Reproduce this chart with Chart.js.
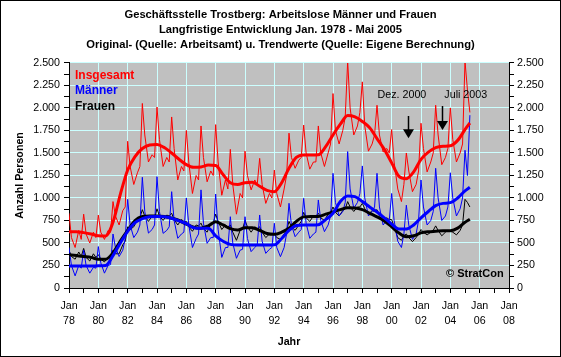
<!DOCTYPE html>
<html><head><meta charset="utf-8">
<script src="https://cdn.jsdelivr.net/npm/chart.js@4.4.0/dist/chart.umd.min.js"></script>
<style>html,body{margin:0;padding:0;background:#fff}</style>
</head><body>
<canvas id="c" width="561" height="357"></canvas>
<script>
// ---- data ----
const fullYears = [1978,1979,1980,1981,1982,1983,1984,1985,1986,1987,1988,1989,1990,1991,
  1992,1993,1994,1995,1996,1997,1998,1999,2000,2001,2002,2003,2004];
const sampleMonths = [1,3,6,9,11];      // Jan, Mar, Jun, Sep, Nov of each year
const lastYear = 2005;
const lastMonths = [1,3,5];             // Jan, Mar, May 2005

// Original values, per year: Jan, Mar, Jun, Sep, Nov
const insgesamtOriginal = [
  830,560,450,640,540,   820,600,500,620,560,   810,620,540,640,620,
  960,800,700,860,900,   1630,1350,1150,1280,1350, 2050,1700,1400,1480,1450,
  2010,1650,1350,1450,1400, 1900,1550,1200,1350,1300, 1750,1400,1050,1250,1200,
  1800,1450,1180,1300,1250, 1815,1400,1030,1200,1100, 1540,1150,820,1050,1000,
  1520,1250,1090,1200,1150, 1440,1150,940,1050,1000, 1310,1050,900,1100,1250,
  1720,1450,1330,1420,1450, 1810,1500,1320,1400,1400, 1800,1500,1350,1500,1600,
  2160,1750,1600,1750,1900, 2520,2000,1700,1800,1950, 2290,1800,1520,1600,1700,
  2030,1700,1510,1550,1500, 1760,1400,1100,960,1150, 1500,1300,1070,1150,1300,
  1830,1550,1290,1400,1500, 2030,1700,1370,1450,1550, 2000,1650,1400,1500,1600,
  2520,2200,1950
];
const maennerOriginal = [
  450,250,135,250,220,   420,250,165,230,220,   460,280,165,250,260,
  600,450,350,420,550,   985,700,560,620,700,   1230,850,610,650,700,
  1237,850,607,640,680,  1070,750,552,600,620,  1000,700,450,550,600,
  1090,720,496,560,560,  1044,650,340,450,450,  792,500,330,420,430,
  792,550,404,450,480,   811,520,385,430,450,   719,450,348,450,600,
  941,700,570,620,650,   996,720,552,600,620,   978,750,626,700,800,
  1274,950,800,850,950,  1515,1100,885,950,1050, 1356,1000,800,850,900,
  1274,900,700,750,750,  1050,750,520,450,600,  920,700,540,600,750,
  1200,900,700,750,850,  1330,1000,750,800,900, 1280,1000,800,880,1000,
  1530,1250,1920
];
const frauenOriginal = [
  420,350,320,400,350,   440,340,300,380,340,   370,320,290,340,330,
  420,380,380,480,520,   680,650,680,760,780,   870,800,740,800,780,
  880,800,750,810,800,   830,760,700,760,740,   740,680,630,700,690,
  720,660,620,720,720,   820,740,650,700,680,   700,620,530,640,650,
  750,680,620,680,660,   680,620,560,600,600,   600,560,540,600,640,
  740,680,640,700,740,   840,780,740,800,800,   830,780,750,820,840,
  900,840,800,860,880,   960,900,850,900,900,   940,880,820,860,850,
  870,800,740,780,760,   760,680,560,530,580,   600,560,515,560,600,
  650,620,590,620,640,   690,640,580,620,640,   630,620,590,640,700,
  985,950,900
];

// Trend values (own calculation), half-yearly
const trendDates = [1978,1978.5,1979,1979.5,1980,1980.5,1981,1981.5,1982,1982.5,1983,1983.5,
  1984,1984.5,1985,1985.5,1986,1986.5,1987,1987.5,1988,1988.5,1989,1989.5,1990,1990.5,
  1991,1991.5,1992,1992.5,1993,1993.5,1994,1994.5,1995,1995.5,1996,1996.5,1997,1997.5,
  1998,1998.5,1999,1999.5,2000,2000.5,2001,2001.5,2002,2002.5,2003,2003.5,2004,2004.5,
  2005,2005.33];
const insgesamtTrend = [626,626,615,600,580,578,730,1040,1311,1460,1550,1589,
  1595,1560,1500,1430,1370,1340,1345,1365,1360,1260,1170,1150,1170,1175,
  1130,1085,1070,1170,1330,1450,1478,1478,1480,1570,1700,1820,1915,1900,
  1850,1780,1660,1540,1390,1240,1215,1290,1430,1510,1560,1575,1580,1640,
  1760,1833];
const maennerTrend = [244,244,244,244,246,250,360,500,630,725,770,792,
  795,792,775,745,715,670,663,663,580,520,485,478,478,478,
  478,478,480,550,640,695,700,700,702,760,830,960,1022,1015,
  960,900,845,780,710,655,655,700,780,850,915,940,948,1000,
  1080,1119];
const frauenTrend = [370,360,350,340,320,320,390,520,640,750,795,800,
  800,795,775,750,710,675,665,690,735,700,660,645,670,670,
  640,605,596,620,663,740,790,795,795,820,845,870,892,890,
  870,830,790,745,680,610,570,580,612,625,630,635,637,665,
  730,763];

const yearMin = 1978, yearMax = 2008;
const valueMax = 2500;

// ---- helpers ----
const originalDates = [];
fullYears.forEach(y => sampleMonths.forEach(m => originalDates.push(y + (m - 1) / 12)));
lastMonths.forEach(m => originalDates.push(lastYear + (m - 1) / 12));
const pts = (xs, ys) => ys.map((v, i) => ({x: xs[i], y: v}));

const FONT = '"Liberation Sans", Arial, sans-serif';
const GRID = '#CCFFFF';
const fmt = v => v >= 1000 ? Math.floor(v / 1000) + '.' + String(v % 1000).padStart(3, '0') : String(v);

const decoPlugin = {
  id: 'deco',
  beforeDraw(chart) {
    const {ctx, chartArea: a} = chart;
    ctx.save();
    ctx.fillStyle = '#fff';
    ctx.fillRect(0, 0, chart.width, chart.height);
    ctx.fillStyle = '#C0C0C0';
    ctx.fillRect(a.left, a.top, a.right - a.left, a.bottom - a.top);
    ctx.restore();
  },
  afterDraw(chart) {
    const {ctx, chartArea: a, scales: {x, y}} = chart;
    ctx.save();
    // legend texts
    ctx.textBaseline = 'middle';
    ctx.textAlign = 'left';
    ctx.font = 'bold 12px ' + FONT;
    ctx.fillStyle = '#FF0000'; ctx.fillText('Insgesamt', a.left + 6, a.top + 13);
    ctx.fillStyle = '#0000FF'; ctx.fillText('Männer', a.left + 6, a.top + 28);
    ctx.fillStyle = '#000000'; ctx.fillText('Frauen', a.left + 6, a.top + 44);
    // copyright
    ctx.font = 'bold 11px ' + FONT;
    ctx.fillText('© StratCon', a.right - 63, a.bottom - 14);
    // annotations
    ctx.font = '10.7px ' + FONT;
    ctx.textAlign = 'center';
    ctx.fillText('Dez. 2000', x.getPixelForValue(2000.7), y.getPixelForValue(2144));
    ctx.fillText('Juli 2003', x.getPixelForValue(2005.05), y.getPixelForValue(2144));
    const arrow = (yr, v1, v2) => {
      const px = Math.round(x.getPixelForValue(yr)) + 0.5;
      const y1 = y.getPixelForValue(v1), y2 = y.getPixelForValue(v2);
      ctx.strokeStyle = '#000'; ctx.lineWidth = 1.5;
      ctx.beginPath(); ctx.moveTo(px, y1); ctx.lineTo(px, y2 - 8); ctx.stroke();
      ctx.beginPath(); ctx.moveTo(px - 5.5, y2 - 9); ctx.lineTo(px + 5.5, y2 - 9); ctx.lineTo(px, y2); ctx.closePath();
      ctx.fill();
    };
    arrow(2001.1, 1911, 1663);
    arrow(2003.45, 2022, 1755);
    // outer frame
    ctx.strokeStyle = '#000'; ctx.lineWidth = 1;
    ctx.strokeRect(0.5, 0.5, 560, 356);
    ctx.restore();
  }
};

const thin = (label, data, color, order) => ({label, data, borderColor: color, backgroundColor: color,
  borderWidth: 1, pointRadius: 0, tension: 0, order});
const thick = (label, data, color, order) => ({label, data, borderColor: color, backgroundColor: color,
  borderWidth: 3, pointRadius: 0, cubicInterpolationMode: 'monotone', order});

new Chart(document.getElementById('c'), {
  type: 'line',
  data: {
    datasets: [
      thin('Frauen', pts(originalDates, frauenOriginal), '#000000', 6),
      thin('Männer', pts(originalDates, maennerOriginal), '#0000FF', 5),
      thin('Insgesamt', pts(originalDates, insgesamtOriginal), '#FF0000', 4),
      thick('Frauen Trend', pts(trendDates, frauenTrend), '#000000', 3),
      thick('Männer Trend', pts(trendDates, maennerTrend), '#0000FF', 2),
      thick('Insgesamt Trend', pts(trendDates, insgesamtTrend), '#FF0000', 1)
    ]
  },
  options: {
    responsive: false, animation: false, devicePixelRatio: 1,
    layout: {padding: 0},
    plugins: {
      legend: {display: false},
      tooltip: {enabled: false},
      title: {
        display: true,
        text: ['Geschäftsstelle Trostberg: Arbeitslose Männer und Frauen',
               'Langfristige Entwicklung Jan. 1978 - Mai 2005',
               'Original- (Quelle: Arbeitsamt) u. Trendwerte (Quelle: Eigene Berechnung)'],
        color: '#000',
        font: {family: FONT, size: 11.2, weight: 'bold', lineHeight: 1.32},
        padding: {top: 7.6, bottom: 11}
      }
    },
    scales: {
      x: {
        type: 'linear', min: yearMin, max: yearMax,
        afterFit: s => { s.height = 69; },
        border: {color: '#000', width: 1},
        grid: {
          color: c => (c.tick && c.tick.value % 2 === 0 && c.tick.value !== yearMin && c.tick.value !== yearMax) ? GRID : 'rgba(0,0,0,0)',
          tickColor: '#000', tickLength: 5, lineWidth: 1
        },
        ticks: {
          stepSize: 1, autoSkip: false, maxRotation: 0, minRotation: 0, padding: 6,
          color: '#000', font: {family: FONT, size: 10.7, lineHeight: 1.4},
          callback: v => v % 2 === 0 ? ['Jan', String(v % 100).padStart(2, '0')] : ''
        },
        title: {display: true, text: 'Jahr', color: '#000',
          font: {family: FONT, size: 10.7, weight: 'bold'}, padding: {top: 0, bottom: 9}}
      },
      y: {
        type: 'linear', position: 'left', min: 0, max: valueMax,
        afterFit: s => { s.width = 69; },
        border: {color: '#000', width: 1},
        grid: {
          color: c => (c.tick && c.tick.value % 250 === 0 && c.tick.value !== 0) ? GRID : 'rgba(0,0,0,0)',
          tickColor: '#000', tickLength: 5
        },
        ticks: {stepSize: 125, autoSkip: false, padding: 4, color: '#000',
          font: {family: FONT, size: 10.7},
          callback: v => v % 250 === 0 ? fmt(v) : ''},
        title: {display: true, text: 'Anzahl Personen', color: '#000',
          font: {family: FONT, size: 10.7, weight: 'bold'}, padding: {top: 14, bottom: 0}}
      },
      y2: {
        type: 'linear', position: 'right', min: 0, max: valueMax,
        afterFit: s => { s.width = 52; },
        border: {color: '#000', width: 1},
        grid: {drawOnChartArea: false, tickColor: '#000', tickLength: 5},
        ticks: {stepSize: 125, autoSkip: false, padding: 3, color: '#000',
          font: {family: FONT, size: 10.7},
          callback: v => v % 250 === 0 ? fmt(v) : ''}
      }
    }
  },
  plugins: [decoPlugin]
});
</script>
</body></html>
